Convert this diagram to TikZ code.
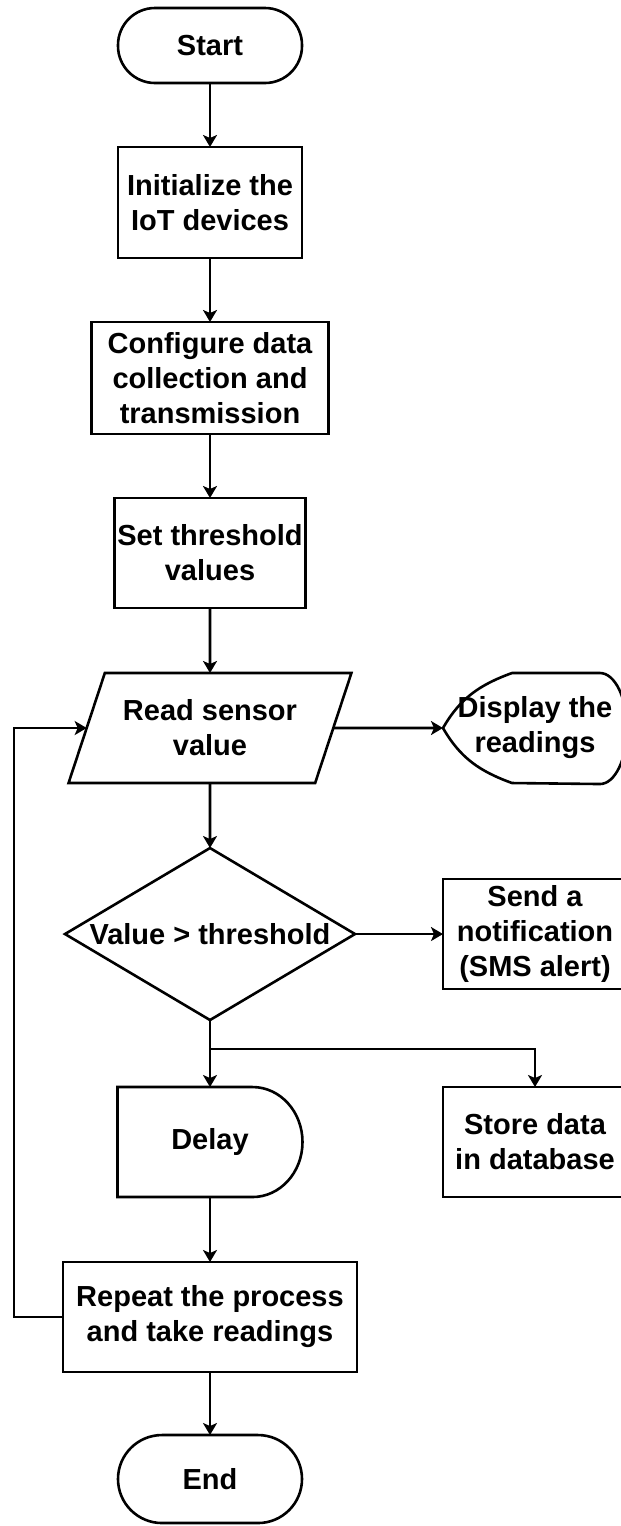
\documentclass[tikz,border=0pt]{standalone}
\usepackage{fontspec}
\setmainfont{Liberation Sans}
\usetikzlibrary{arrows.meta,positioning,shapes.geometric,calc}

\begin{document}
\begin{tikzpicture}[
    font=\bfseries\fontsize{14.5}{17.5}\selectfont,
    line width=1.3pt,
    outer sep=0pt,
    box/.style={draw,fill=white,align=center,minimum width=92pt,minimum height=55pt,inner sep=1.5pt},
    term/.style={box,rounded corners=18.5pt,minimum height=37.5pt},
    io/.style={trapezium,draw,align=center,trapezium left angle=63,trapezium right angle=117,
      trapezium stretches=true,minimum width=141.5pt,minimum height=55pt,inner sep=1pt},
    cond/.style={diamond,draw,align=center,aspect=1.69,minimum width=145pt,minimum height=86pt,inner sep=0pt},
    ghost/.style={align=center,minimum height=55pt,inner sep=0pt},
    arr/.style={-{Stealth[length=6pt,width=7pt,inset=1.5pt]}}
  ]
    \useasboundingbox (0,0) rectangle (310.5pt,-763pt);
    \node[term] (start) at (105pt,-22.75pt) {Start};
    \node[box,minimum height=55.5pt,below=32pt of start] (init) {Initialize the\\IoT devices};
    \node[box,minimum width=118.5pt,minimum height=56pt,below=32pt of init] (config) {Configure data\\collection and\\transmission};
    \node[box,below=32pt of config] (thresh) {Set threshold\\values};
    \node[io,below=32.5pt of thresh] (read) {Read sensor\\value};
    \node[ghost,minimum width=92pt] (disp) at ($(read)+(162.5pt,0)$) {Display the\\readings};
    \node[cond,below=32.5pt of read] (decide) {Value > threshold};
    \node[box,right=44pt of decide] (notify) {Send a\\notification\\(SMS alert)};
    \node[ghost,minimum width=92.5pt,below=33.5pt of decide] (delay) {Delay};
    \node[box] (store) at (notify |- delay) {Store data\\in database};
    \node[box,minimum width=147pt,below=32.5pt of delay] (rep) {Repeat the process\\and take readings};
    \node[term,minimum height=44pt,rounded corners=22pt,below=31.5pt of rep] (stop) {End};
    \coordinate[below=14.5pt of decide.south] (split);

    % display and delay outlines
    \draw ($(disp.north west)+(34.5pt,0)$) -- ($(disp.north west)+(78.5pt,0)$)
      arc[start angle=90,end angle=-90,x radius=13.5pt,y radius=27.75pt]
      -- ($(disp.south west)+(34.5pt,0)$) to[out=160,in=-60] (disp.west)
      to[out=60,in=200] ($(disp.north west)+(34.5pt,0)$);
    \draw (delay.north west) -- ++(67.5pt,0)
      arc[start angle=90,end angle=-90,x radius=25pt,y radius=27.5pt]
      -- (delay.south west) -- cycle;

    \draw[arr] (start) -- (init);
    \draw[arr] (init) -- (config);
    \draw[arr] (config) -- (thresh);
    \draw[arr] (thresh) -- (read);
    \draw[arr] (read.east) -- (disp.west);
    \draw[arr] (read) -- (decide);
    \draw[arr] (decide) -- (notify);
    \draw (decide.south) -- (split);
    \draw[arr] (split) -- (delay);
    \draw[arr] (split) -| (store);
    \draw[arr] (delay) -- (rep);
    \draw[arr] (rep) -- (stop);
    \draw[arr] (rep.west) -- ++(-24.5pt,0) |- (read.west);
  \end{tikzpicture}
\end{document}
